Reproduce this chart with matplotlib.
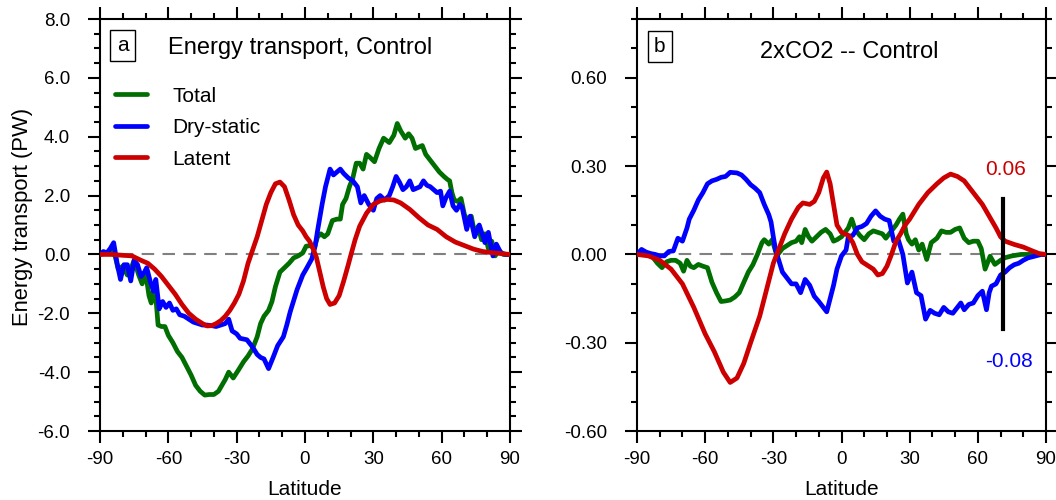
import numpy as np
import matplotlib
matplotlib.use('Agg')
import matplotlib.pyplot as plt
from matplotlib.ticker import MultipleLocator

plt.rcParams['font.family'] = ['Liberation Sans', 'DejaVu Sans']
plt.rcParams['axes.unicode_minus'] = False

GREEN = '#006e00'
BLUE = '#0000ff'
RED = '#cc0000'

# ---- panel a: control run ----
lat_tot_a = [-90, -87, -84, -82, -80, -78, -76, -75, -73, -71.5, -70, -68.5, -67.5, -66, -64.5, -63,
             -61.5, -60, -58, -56, -54, -52, -50, -48, -46, -44, -42, -40, -38, -36.5, -35, -33.5,
             -31.5, -29, -27, -25, -23, -21, -19.5, -18, -16, -14.5, -13, -11, -9, -7, -5, -3, -1,
             0.5, 2.5, 4, 5.5, 7, 8.5, 10, 12, 14, 15.5, 16.5, 18, 19.5, 21, 22.5, 24, 25.5, 27,
             28.5, 30.5, 32.5, 34.5, 37, 39, 40.5, 42, 44, 45.5, 47, 48.5, 50, 51.5, 53, 55, 57, 59,
             61, 62.5, 63.5, 64.5, 65.5, 67, 68.5, 70, 71.5, 73, 74.5, 76, 77.5, 79, 80.5, 82, 83.5,
             85, 87, 90]
total_a = [0.0, 0.05, 0.15, -0.5, -0.4, -0.7, -0.4, -0.2, -0.7, -1.0, -0.6, -1.4, -1.65, -0.95, -2.4,
           -2.45, -2.45, -2.75, -3.0, -3.3, -3.5, -3.8, -4.1, -4.45, -4.65, -4.78, -4.76, -4.76, -4.65,
           -4.45, -4.25, -4.0, -4.2, -3.9, -3.65, -3.45, -3.2, -2.8, -2.35, -2.1, -1.9, -1.6, -1.1,
           -0.6, -0.45, -0.3, -0.12, -0.05, 0.05, 0.28, 0.3, 0.2, 0.6, 0.7, 0.6, 0.7, 1.15, 1.2, 1.2,
           1.7, 1.9, 2.3, 2.6, 3.1, 3.1, 2.9, 3.4, 3.3, 3.15, 3.6, 3.95, 3.8, 4.05, 4.45, 4.2, 3.95,
           4.1, 3.95, 3.6, 3.65, 3.7, 3.4, 3.2, 3.0, 2.8, 2.65, 2.55, 2.5, 2.1, 1.85, 1.8, 1.9, 1.35,
           1.15, 1.3, 0.7, 0.95, 0.5, 0.7, 0.2, 0.45, -0.05, 0.15, 0.0, 0.0]

lat_dry_a = [-90, -88.5, -87, -85.5, -84, -82.5, -81, -79.5, -78, -76.5, -75, -73.5, -72, -70.5, -69.5,
             -68, -66.5, -65.5, -64, -62.5, -61, -59.5, -58, -56.5, -55, -53, -51, -49, -47, -45, -43,
             -41, -39, -37, -35, -33.5, -32, -30, -28.5, -25.5, -23, -21, -19.5, -18, -16, -14, -12,
             -9.5, -8, -6.5, -3.5, -1, 0.5, 3, 4.5, 5.5, 7.5, 9, 11, 12.5, 14, 15.5, 17, 19, 21, 23,
             24.5, 26, 28, 30, 31.5, 33, 35, 37, 38.5, 40, 41.5, 43, 44.5, 46, 47.5, 49, 50.5, 52,
             53.5, 55, 56.5, 58, 59.5, 60.5, 62, 63.5, 65, 66.5, 68, 69, 71, 72.5, 74.5, 76.5, 79,
             80.5, 82.5, 84, 86, 88, 90]
dry_a = [0.0, 0.1, 0.05, 0.2, 0.4, -0.3, -0.85, -0.35, -0.35, -0.9, -0.2, -0.35, -0.75, -0.6, -0.45,
         -0.9, -1.25, -0.85, -1.85, -1.6, -1.8, -1.65, -1.9, -1.85, -2.05, -2.1, -2.2, -2.3, -2.35,
         -2.4, -2.4, -2.42, -2.45, -2.4, -2.35, -2.2, -2.6, -2.7, -2.85, -2.9, -3.15, -3.4, -3.5,
         -3.55, -3.88, -3.5, -3.1, -2.8, -2.4, -1.95, -1.2, -0.7, -0.5, -0.15, 0.3, 0.8, 1.7, 2.3,
         2.9, 2.7, 2.8, 2.9, 2.75, 2.6, 2.5, 2.3, 1.75, 2.0, 1.7, 1.5, 1.9, 2.0, 1.85, 2.0, 2.3,
         2.65, 2.45, 2.2, 2.3, 2.5, 2.2, 2.25, 2.3, 2.5, 2.35, 2.3, 2.2, 2.1, 2.15, 1.65, 1.95,
         2.15, 1.65, 1.5, 1.7, 1.6, 0.85, 1.3, 0.6, 1.0, 0.4, 0.75, -0.05, 0.35, 0.05, 0.0, 0.0]

lat_lat_a = [-90, -85, -80, -76, -72, -69, -66, -63, -60, -57, -54, -51, -48, -45, -43, -41, -39, -37,
             -35, -33, -31, -29, -27, -25, -23, -21, -19, -17, -15, -13, -11, -9, -7, -5, -3, -1,
             0.5, 2, 3.5, 5, 6.5, 8, 9.5, 11, 13, 15, 17, 19, 20, 22, 24, 27, 30, 33, 36, 39, 42, 46,
             50, 54, 58, 62, 66, 70, 74, 78, 82, 86, 90]
latent_a = [0.0, 0.0, -0.03, -0.05, -0.2, -0.3, -0.5, -0.75, -1.05, -1.35, -1.7, -2.0, -2.2, -2.35,
            -2.43, -2.42, -2.35, -2.25, -2.1, -1.9, -1.65, -1.35, -0.9, -0.3, 0.15, 0.6, 1.15, 1.7,
            2.1, 2.4, 2.46, 2.3, 1.85, 1.35, 1.0, 0.8, 0.6, 0.45, 0.2, -0.1, -0.6, -1.1, -1.5, -1.7,
            -1.65, -1.4, -0.9, -0.35, -0.06, 0.5, 0.96, 1.4, 1.7, 1.82, 1.87, 1.85, 1.75, 1.53, 1.25,
            1.0, 0.85, 0.6, 0.42, 0.3, 0.18, 0.1, 0.06, 0.03, 0.0]

# ---- panel b: 2xCO2 minus control ----
lat_tot_b = [-90, -87, -85, -83, -81, -79, -77, -75, -73, -71, -69.5, -68, -66.5, -65, -63, -61, -59,
             -57, -55, -53, -51, -49, -47, -45, -43, -41, -39, -37, -35, -34, -32, -30.5, -29, -28,
             -26, -24, -22, -20, -18.5, -17.5, -16, -14.5, -13, -11, -9, -7, -5, -3.5, -2, 0, 1.5,
             3, 4.5, 6, 8, 10, 12, 14, 16, 18, 19.5, 21, 22.5, 24, 25.5, 27, 28.5, 29.5, 31, 32.5,
             34, 35.5, 37.5, 39.5, 42, 44, 46, 48, 50, 52, 54, 56, 58, 60, 61.5, 63.2, 65.4, 67.5,
             70, 72, 75, 79, 85, 90]
total_b = [0.0, 0.005, 0.0, -0.01, -0.03, -0.045, -0.025, -0.02, -0.02, -0.03, -0.057, -0.02, -0.04,
           -0.045, -0.034, -0.04, -0.045, -0.095, -0.13, -0.16, -0.158, -0.155, -0.145, -0.13,
           -0.095, -0.06, -0.035, 0.0, 0.04, 0.05, 0.035, 0.05, 0.01, 0.0, 0.02, 0.03, 0.04, 0.045,
           0.06, 0.04, 0.085, 0.06, 0.045, 0.06, 0.075, 0.085, 0.07, 0.045, 0.05, 0.06, 0.075, 0.09,
           0.12, 0.085, 0.065, 0.05, 0.07, 0.08, 0.075, 0.07, 0.055, 0.07, 0.085, 0.1, 0.12, 0.137,
           0.07, 0.05, 0.035, 0.05, 0.015, 0.035, -0.017, 0.04, 0.055, 0.08, 0.075, 0.075, 0.085,
           0.09, 0.055, 0.04, 0.045, 0.045, 0.02, -0.05, -0.006, -0.034, -0.02, -0.011, -0.005, 0.0,
           0.0, 0.0]

lat_dry_b = [-90, -88, -86, -84, -82, -80, -78, -76, -74, -72, -70, -68, -67, -65, -63, -61, -59, -57,
             -55, -53, -51, -49, -46, -44, -42, -40, -38, -36, -34, -32, -31, -30, -29, -28, -26, -24,
             -22, -20, -18, -16, -14, -12, -10, -8, -6.5, -5, -3.5, -2, 0, 2, 3, 5, 7, 9, 11, 13, 15,
             17, 19, 21, 23, 25, 27, 29, 31, 33, 35, 37, 39, 41, 43, 45, 47, 49, 51, 52.5, 54, 56, 58,
             60, 62, 63.8, 65, 66, 68, 70, 72, 74, 76, 78, 80, 82, 84, 86, 88, 90]
dry_b = [0.0, 0.017, 0.008, 0.003, 0.0, -0.005, -0.005, 0.01, 0.012, 0.055, 0.045, 0.09, 0.12, 0.15,
         0.185, 0.21, 0.24, 0.25, 0.255, 0.262, 0.265, 0.279, 0.277, 0.27, 0.255, 0.237, 0.225, 0.21,
         0.17, 0.135, 0.11, 0.06, 0.015, -0.01, -0.06, -0.08, -0.1, -0.1, -0.13, -0.085, -0.105,
         -0.142, -0.16, -0.18, -0.195, -0.15, -0.105, -0.05, -0.005, 0.015, 0.06, 0.065, 0.09,
         0.095, 0.105, 0.13, 0.148, 0.13, 0.12, 0.115, 0.045, 0.05, 0.0, -0.097, -0.06, -0.13,
         -0.14, -0.22, -0.19, -0.2, -0.205, -0.18, -0.195, -0.2, -0.18, -0.165, -0.188, -0.17,
         -0.165, -0.14, -0.125, -0.188, -0.13, -0.108, -0.1, -0.07, -0.06, -0.045, -0.035, -0.03,
         -0.02, -0.012, -0.008, -0.004, 0.0, 0.0]

lat_lat_b = [-90, -85, -80, -75, -70, -65, -60, -56, -52, -49, -46, -43, -40, -36, -33, -30, -28, -25,
             -22, -19, -17, -14, -12, -10, -8, -6.5, -5, -3.5, -2, 0, 3, 5, 7, 9, 12, 14, 16, 18, 20,
             22, 24, 26, 28, 30, 34, 38, 42, 45, 48, 51, 54, 58, 62, 65, 68, 70, 72, 76, 80, 84, 87,
             90]
latent_b = [0.0, -0.005, -0.02, -0.05, -0.1, -0.18, -0.27, -0.33, -0.4, -0.435, -0.42, -0.37, -0.3,
            -0.21, -0.12, -0.03, 0.01, 0.07, 0.12, 0.16, 0.175, 0.17, 0.18, 0.21, 0.26, 0.28, 0.24,
            0.17, 0.1, 0.075, 0.065, 0.04, 0.0, -0.025, -0.04, -0.05, -0.07, -0.065, -0.04, 0.0,
            0.045, 0.07, 0.1, 0.12, 0.17, 0.21, 0.24, 0.26, 0.273, 0.265, 0.25, 0.21, 0.17, 0.13,
            0.09, 0.06, 0.045, 0.034, 0.025, 0.012, 0.003, 0.0]

# scale bar at 70N in panel b
bar_lat = 71
bar_top, bar_bottom = 0.19, -0.255
bar_labels = ['0.06', '-0.08']

xticks = [-90, -60, -30, 0, 30, 60, 90]
xticklabels = ['-90', '-60', '-30', '0', '30', '60', '90']
yticks_a = [-6, -4, -2, 0, 2, 4, 6, 8]
yticklabels_a = ['-6.0', '-4.0', '-2.0', '0.0', '2.0', '4.0', '6.0', '8.0']
yticks_b = [-0.6, -0.3, 0, 0.3, 0.6]
yticklabels_b = ['-0.60', '-0.30', '0.00', '0.30', '0.60']

W, H = 1056, 500
fig = plt.figure(figsize=(W / 100, H / 100), dpi=100)
ax1 = fig.add_axes([100 / W, 69 / H, 410 / W, 412 / H])
ax2 = fig.add_axes([637 / W, 69 / H, 409 / W, 412 / H])

FS = 13.5
LFS = 15
lw = 3.4

for ax in (ax1, ax2):
    ax.axhline(0, color='#808080', lw=1.5, ls=(0, (6, 4)), zorder=1)
    ax.set_xlim(-90, 90)
    ax.set_xticks(xticks)
    ax.set_xticklabels(xticklabels)
    ax.xaxis.set_minor_locator(MultipleLocator(10))
    ax.tick_params(which='both', direction='out', top=True, right=True, labelsize=FS, width=1.5)
    ax.tick_params(which='major', length=8.5, pad=6)
    ax.tick_params(which='minor', length=4.3)
    ax.tick_params(axis='y', which='major', pad=13)
    for s in ax.spines.values():
        s.set_linewidth(1.5)
    ax.set_xlabel('Latitude', fontsize=LFS)
    ax.xaxis.set_label_coords(0.5, -0.118)

style = dict(lw=lw, solid_capstyle='round', solid_joinstyle='round', zorder=3)

ax1.plot(lat_tot_a, total_a, color=GREEN, label='Total', **style)
ax1.plot(lat_dry_a, dry_a, color=BLUE, label='Dry-static', **style)
ax1.plot(lat_lat_a, latent_a, color=RED, label='Latent', **style)
ax1.set_ylim(-6, 8)
ax1.set_yticks(yticks_a)
ax1.set_yticklabels(yticklabels_a)
ax1.yaxis.set_minor_locator(MultipleLocator(0.5))
ax1.set_ylabel('Energy transport (PW)', fontsize=LFS + 0.8)
ax1.yaxis.set_label_coords(-0.163, 0.519)
ax1.text(0.055, 0.936, 'a', transform=ax1.transAxes, ha='center', va='center', fontsize=LFS,
         bbox=dict(boxstyle='square,pad=0.3', fc='white', ec='black', lw=1))
ax1.text(0.166, 0.93, 'Energy transport, Control', transform=ax1.transAxes, ha='left', va='center',
         fontsize=17)
ax1.legend(loc='upper left', bbox_to_anchor=(0.0366, 0.836), frameon=False, fontsize=LFS,
           handlelength=1.55, handletextpad=1.2, labelspacing=0.6, borderpad=0, borderaxespad=0)

ax2.plot(lat_tot_b, total_b, color=GREEN, **style)
ax2.plot(lat_dry_b, dry_b, color=BLUE, **style)
ax2.plot(lat_lat_b, latent_b, color=RED, **style)
ax2.plot([bar_lat, bar_lat], [bar_bottom, bar_top], color='black', lw=3, zorder=4)
ax2.text(bar_lat + 1.2, bar_top + 0.1, bar_labels[0], color=RED, ha='center', va='center', fontsize=LFS)
ax2.text(bar_lat + 2.6, bar_bottom - 0.11, bar_labels[1], color=BLUE, ha='center', va='center', fontsize=LFS)
ax2.set_ylim(-0.6, 0.8)
ax2.set_yticks(yticks_b)
ax2.set_yticklabels(yticklabels_b)
ax2.yaxis.set_minor_locator(MultipleLocator(0.1))
ax2.text(0.056, 0.933, 'b', transform=ax2.transAxes, ha='center', va='center', fontsize=LFS,
         bbox=dict(boxstyle='square,pad=0.3', fc='white', ec='black', lw=1))
ax2.text(0.30, 0.92, '2xCO2 -- Control', transform=ax2.transAxes, ha='left', va='center',
         fontsize=17)

fig.savefig('out.png', dpi=100)
